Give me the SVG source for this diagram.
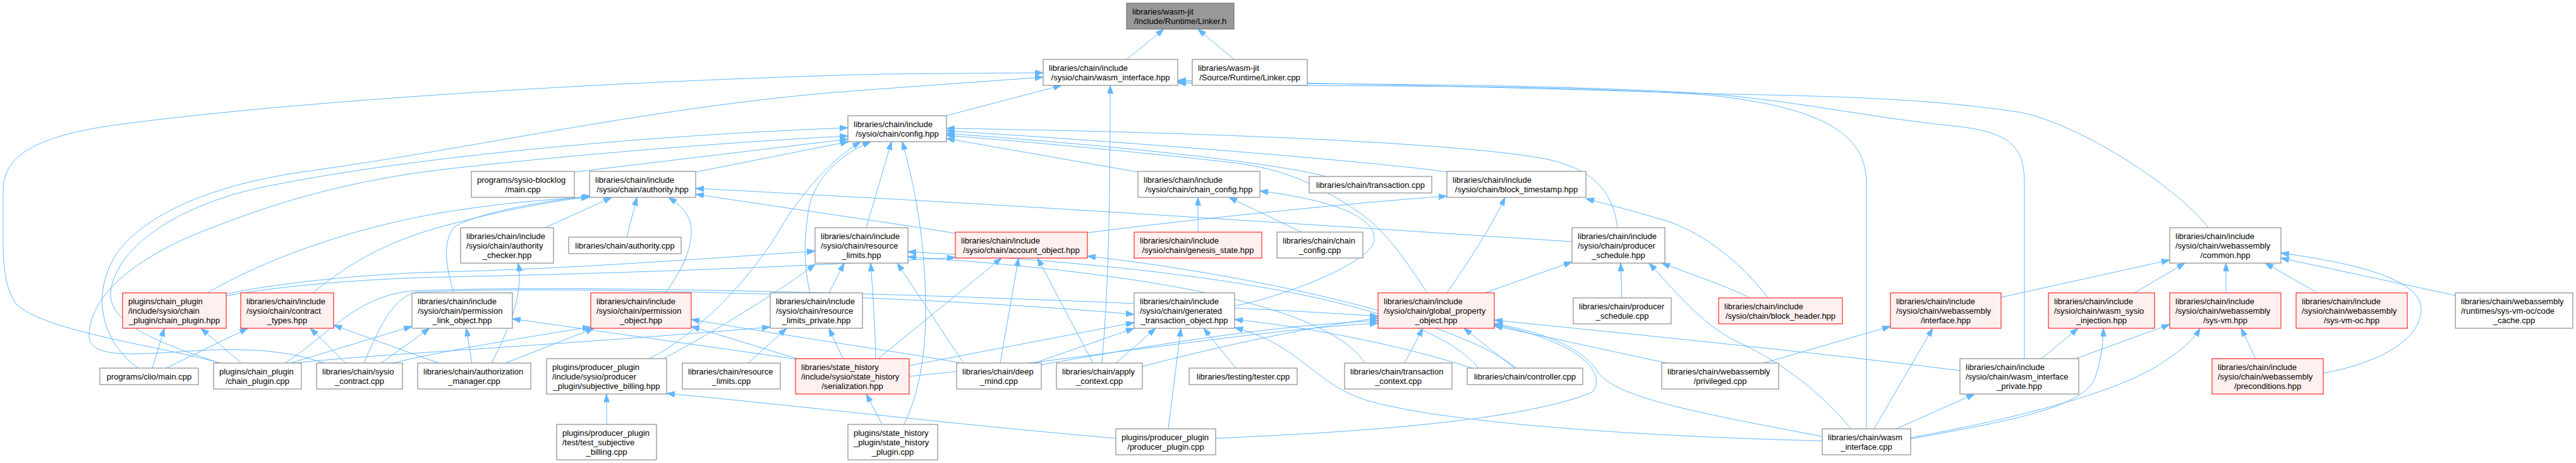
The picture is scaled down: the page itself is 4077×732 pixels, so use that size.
<svg xmlns="http://www.w3.org/2000/svg" width="4077" height="732" viewBox="0 0 4077 732">
<style>
.node rect { fill:#ffffff; stroke:#777777; stroke-width:1; }
.node.red rect { fill:#FFF0F0; stroke:#FF0000; }
.node.root rect { fill:#999999; stroke:#666666; }
text { font-family:"Liberation Sans", Arial, Helvetica, sans-serif; font-size:13px; fill:#000000; }
text.c { text-anchor:middle; }
#edges path { fill:none; stroke:#63B8FF; stroke-width:1; marker-end:url(#arr); }
</style>
<defs>
<marker id="arr" markerWidth="13" markerHeight="10" refX="13" refY="4.5" orient="auto" markerUnits="userSpaceOnUse">
<path d="M0,0 L13,4.5 L0,9 z" fill="#63B8FF" stroke="#63B8FF"/>
</marker>
</defs>
<rect x="0" y="0" width="4077" height="732" fill="#ffffff"/>
<g id="edges">
<path d="M1783,94 L1842,46"/>
<path d="M1953,94 L1896,46"/>
<path d="M1497,183 L1680,135"/>
<path d="M348,574 C260,548 70,525 25,480 C8,455 5,420 5,380 L5,300 C5,245 60,215 180,198 C420,165 900,130 1400,117 L1651,115"/>
<path d="M219,582 C165,545 140,470 185,400 C230,340 330,292 491,270 C750,235 1050,165 1360,143 L1651,122"/>
<path d="M348,574 C260,545 175,515 175,465 C178,400 270,320 446,290 C650,250 1000,215 1342,202"/>
<path d="M513,574 C450,552 380,550 300,555 C200,562 140,565 141,530 C142,460 230,400 330,362 C450,315 560,285 700,268 C900,245 1150,225 1342,215"/>
<path d="M909,272 L1342,220"/>
<path d="M1101,272 L1343,224"/>
<path d="M1801,272 L1498,219"/>
<path d="M2098,279 C2060,268 1900,240 1498,211"/>
<path d="M2290,272 C2200,258 1800,225 1498,207"/>
<path d="M2560,360 C2552,300 2520,268 2450,252 C2300,222 1800,207 1498,203"/>
<path d="M2259,463 C2230,420 2195,365 2150,335 C2090,295 2040,268 1950,257 C1800,240 1600,222 1498,214"/>
<path d="M1371,360 L1411,224"/>
<path d="M1431,671 C1455,620 1465,560 1465,493 C1465,420 1458,330 1428,224"/>
<path d="M1028,567 C1100,530 1180,450 1230,370 C1270,300 1320,250 1362,224"/>
<path d="M1282,463 C1272,420 1272,380 1280,330 C1290,280 1330,245 1378,224"/>
<path d="M328,463 C420,410 550,362 700,336 C800,320 870,315 933,312"/>
<path d="M495,463 C560,410 620,380 700,358 C780,336 860,320 933,311"/>
<path d="M718,463 C705,420 700,380 720,358 C760,335 870,316 935,310"/>
<path d="M863,360 L968,312"/>
<path d="M992,375 L1008,312"/>
<path d="M1053,463 C1085,420 1100,380 1092,350 C1085,330 1070,320 1058,312"/>
<path d="M2488,382 C2300,370 1700,330 1380,313 C1250,306 1150,300 1101,298"/>
<path d="M1512,369 C1450,358 1250,330 1101,307"/>
<path d="M778,574 C800,530 830,470 820,416"/>
<path d="M747,574 L738,519"/>
<path d="M460,574 L652,516"/>
<path d="M603,574 L680,519"/>
<path d="M1262,568 L811,504"/>
<path d="M800,574 L940,519"/>
<path d="M621,574 C700,555 850,530 935,517"/>
<path d="M1265,568 L1094,516"/>
<path d="M1520,574 C1450,560 1300,540 1094,505"/>
<path d="M1184,574 L1245,519"/>
<path d="M1334,567 L1312,519"/>
<path d="M469,574 C560,562 900,545 1219,517"/>
<path d="M357,465 C450,445 600,432 700,430 C900,425 1100,410 1290,397"/>
<path d="M1050,567 C1120,530 1220,470 1290,418"/>
<path d="M1312,463 L1336,416"/>
<path d="M1386,567 C1385,520 1382,470 1378,416"/>
<path d="M1525,574 L1420,416"/>
<path d="M2160,574 C2100,480 1800,430 1437,406"/>
<path d="M2340,582 C2250,470 1850,420 1437,398"/>
<path d="M357,468 C450,450 600,440 700,438 C1000,432 1300,420 1512,407"/>
<path d="M1390,567 L1585,408"/>
<path d="M1583,574 L1612,408"/>
<path d="M1730,574 L1642,408"/>
<path d="M2400,582 C2300,500 1950,430 1721,405"/>
<path d="M576,574 C600,520 620,470 660,462 C900,450 1500,470 1795,497"/>
<path d="M1439,578 L1795,510"/>
<path d="M1637,574 L1795,519"/>
<path d="M1766,574 L1829,519"/>
<path d="M1849,678 L1869,519"/>
<path d="M1956,582 L1905,519"/>
<path d="M2330,582 C2200,540 2050,515 1954,505"/>
<path d="M2884,697 C2600,690 2300,670 2170,635 C2080,610 2060,545 1954,518"/>
<path d="M2223,574 L2252,519"/>
<path d="M2397,582 L2317,519"/>
<path d="M2638,574 L2365,515"/>
<path d="M2884,690 C2700,655 2560,630 2530,590 C2510,555 2450,525 2365,512"/>
<path d="M3102,586 C2900,560 2600,530 2365,506"/>
<path d="M1924,693 C2100,685 2400,670 2520,620 C2545,590 2500,540 2365,513"/>
<path d="M1806,580 C1900,555 2050,520 2181,503"/>
<path d="M1640,578 C1800,550 2000,515 2181,507"/>
<path d="M1439,595 C1700,570 2000,520 2181,511"/>
<path d="M451,574 C520,530 560,470 650,460 C1000,445 1900,480 2181,500"/>
<path d="M2350,463 L2488,414"/>
<path d="M2567,471 L2565,416"/>
<path d="M2769,471 C2740,455 2680,435 2630,416"/>
<path d="M2930,678 C2880,620 2830,580 2760,545 C2700,520 2660,470 2610,416"/>
<path d="M2290,463 C2320,420 2360,360 2382,312"/>
<path d="M1721,368 C1900,345 2150,320 2290,310"/>
<path d="M2798,471 C2760,420 2700,370 2640,350 C2580,332 2540,322 2510,314"/>
<path d="M1896,367 L1896,312"/>
<path d="M2060,367 L1945,312"/>
<path d="M1954,483 C2000,478 2170,420 2175,380 C2178,340 2100,315 1994,302"/>
<path d="M1744,574 C1752,480 1757,380 1757,135"/>
<path d="M2954,678 L2954,290 C2954,220 2900,170 2700,150 C2400,130 2100,140 1864,131"/>
<path d="M3204,567 L3204,290 C3204,230 3180,210 3100,200 C2950,185 2850,160 2700,148 C2400,130 2100,135 1864,129"/>
<path d="M3495,360 C3450,300 3300,200 3200,178 C3050,155 2900,152 2700,148 C2400,138 2100,132 1864,127"/>
<path d="M3167,470 L3434,411"/>
<path d="M3378,463 L3458,416"/>
<path d="M3523,463 L3523,416"/>
<path d="M3668,463 L3585,416"/>
<path d="M3677,590 C3760,575 3830,540 3832,490 C3834,440 3720,415 3610,400"/>
<path d="M3886,467 L3610,408"/>
<path d="M3285,567 L3434,513"/>
<path d="M3024,692 C3200,660 3350,620 3420,575 C3450,555 3470,540 3482,519"/>
<path d="M3570,567 L3547,519"/>
<path d="M3231,567 L3289,519"/>
<path d="M3024,694 C3150,670 3290,650 3315,600 C3325,570 3329,545 3329,519"/>
<path d="M2791,574 L2992,516"/>
<path d="M2966,678 L3059,519"/>
<path d="M3001,678 L3125,623"/>
<path d="M960,671 L960,623"/>
<path d="M1766,693 C1500,670 1250,640 1055,622"/>
<path d="M1396,671 L1371,623"/>
<path d="M241,582 L260,519"/>
<path d="M382,574 L318,519"/>
<path d="M263,582 L392,519"/>
<path d="M547,574 L491,519"/>
<path d="M694,574 L528,514"/>
</g>
<g id="n_linker_h" class="node root"><rect x="1783" y="5" width="170" height="41"/><text x="1792" y="22.5">libraries/wasm-jit</text><text class="c" x="1868" y="37.5">/Include/Runtime/Linker.h</text></g>
<g id="n_wasm_iface_hpp" class="node"><rect x="1651" y="94" width="213" height="41"/><text x="1660" y="111.5">libraries/chain/include</text><text class="c" x="1757.5" y="126.5">/sysio/chain/wasm_interface.hpp</text></g>
<g id="n_linker_cpp" class="node"><rect x="1887" y="94" width="182" height="41"/><text x="1896" y="111.5">libraries/wasm-jit</text><text class="c" x="1978" y="126.5">/Source/Runtime/Linker.cpp</text></g>
<g id="n_config_hpp" class="node"><rect x="1342" y="183" width="156" height="41"/><text x="1351" y="200.5">libraries/chain/include</text><text class="c" x="1420" y="215.5">/sysio/chain/config.hpp</text></g>
<g id="n_blocklog_main" class="node"><rect x="746" y="271" width="163" height="41"/><text x="755" y="288.5">programs/sysio-blocklog</text><text class="c" x="827.5" y="303.5">/main.cpp</text></g>
<g id="n_authority_hpp" class="node"><rect x="933" y="271" width="168" height="41"/><text x="942" y="288.5">libraries/chain/include</text><text class="c" x="1017" y="303.5">/sysio/chain/authority.hpp</text></g>
<g id="n_chain_config_hpp" class="node"><rect x="1801" y="271" width="193" height="41"/><text x="1810" y="288.5">libraries/chain/include</text><text class="c" x="1897.5" y="303.5">/sysio/chain/chain_config.hpp</text></g>
<g id="n_transaction_cpp" class="node"><rect x="2072" y="279" width="194" height="26"/><text class="c" x="2169" y="296.5">libraries/chain/transaction.cpp</text></g>
<g id="n_block_timestamp_hpp" class="node"><rect x="2290" y="271" width="220" height="41"/><text x="2299" y="288.5">libraries/chain/include</text><text class="c" x="2400" y="303.5">/sysio/chain/block_timestamp.hpp</text></g>
<g id="n_authority_checker_hpp" class="node"><rect x="729" y="360" width="147" height="56"/><text x="738" y="377.5">libraries/chain/include</text><text x="738" y="392.5">/sysio/chain/authority</text><text class="c" x="802.5" y="407.5">_checker.hpp</text></g>
<g id="n_authority_cpp" class="node"><rect x="900" y="375" width="178" height="26"/><text class="c" x="989" y="392.5">libraries/chain/authority.cpp</text></g>
<g id="n_resource_limits_hpp" class="node"><rect x="1290" y="360" width="147" height="56"/><text x="1299" y="377.5">libraries/chain/include</text><text x="1299" y="392.5">/sysio/chain/resource</text><text class="c" x="1363.5" y="407.5">_limits.hpp</text></g>
<g id="n_account_object_hpp" class="node red"><rect x="1512" y="367" width="209" height="41"/><text x="1521" y="384.5">libraries/chain/include</text><text class="c" x="1616.5" y="399.5">/sysio/chain/account_object.hpp</text></g>
<g id="n_genesis_state_hpp" class="node red"><rect x="1795" y="367" width="202" height="41"/><text x="1804" y="384.5">libraries/chain/include</text><text class="c" x="1896" y="399.5">/sysio/chain/genesis_state.hpp</text></g>
<g id="n_chain_config_cpp" class="node"><rect x="2021" y="367" width="136" height="41"/><text x="2030" y="384.5">libraries/chain/chain</text><text class="c" x="2089" y="399.5">_config.cpp</text></g>
<g id="n_producer_schedule_hpp" class="node"><rect x="2488" y="360" width="147" height="56"/><text x="2497" y="377.5">libraries/chain/include</text><text x="2497" y="392.5">/sysio/chain/producer</text><text class="c" x="2561.5" y="407.5">_schedule.hpp</text></g>
<g id="n_common_hpp" class="node"><rect x="3434" y="360" width="176" height="56"/><text x="3443" y="377.5">libraries/chain/include</text><text x="3443" y="392.5">/sysio/chain/webassembly</text><text class="c" x="3522" y="407.5">/common.hpp</text></g>
<g id="n_chain_plugin_hpp" class="node red"><rect x="194" y="463" width="164" height="56"/><text x="203" y="480.5">plugins/chain_plugin</text><text x="203" y="495.5">/include/sysio/chain</text><text class="c" x="276" y="510.5">_plugin/chain_plugin.hpp</text></g>
<g id="n_contract_types_hpp" class="node red"><rect x="381" y="463" width="147" height="56"/><text x="390" y="480.5">libraries/chain/include</text><text x="390" y="495.5">/sysio/chain/contract</text><text class="c" x="454.5" y="510.5">_types.hpp</text></g>
<g id="n_permission_link_object_hpp" class="node"><rect x="652" y="463" width="159" height="56"/><text x="661" y="480.5">libraries/chain/include</text><text x="661" y="495.5">/sysio/chain/permission</text><text class="c" x="731.5" y="510.5">_link_object.hpp</text></g>
<g id="n_permission_object_hpp" class="node red"><rect x="935" y="463" width="159" height="56"/><text x="944" y="480.5">libraries/chain/include</text><text x="944" y="495.5">/sysio/chain/permission</text><text class="c" x="1014.5" y="510.5">_object.hpp</text></g>
<g id="n_resource_limits_private_hpp" class="node"><rect x="1219" y="463" width="146" height="56"/><text x="1228" y="480.5">libraries/chain/include</text><text x="1228" y="495.5">/sysio/chain/resource</text><text class="c" x="1292" y="510.5">_limits_private.hpp</text></g>
<g id="n_generated_transaction_object_hpp" class="node"><rect x="1795" y="463" width="159" height="56"/><text x="1804" y="480.5">libraries/chain/include</text><text x="1804" y="495.5">/sysio/chain/generated</text><text class="c" x="1874.5" y="510.5">_transaction_object.hpp</text></g>
<g id="n_global_property_object_hpp" class="node red"><rect x="2181" y="463" width="184" height="56"/><text x="2190" y="480.5">libraries/chain/include</text><text x="2190" y="495.5">/sysio/chain/global_property</text><text class="c" x="2273" y="510.5">_object.hpp</text></g>
<g id="n_producer_schedule_cpp" class="node"><rect x="2490" y="471" width="155" height="41"/><text x="2499" y="488.5">libraries/chain/producer</text><text class="c" x="2567.5" y="503.5">_schedule.cpp</text></g>
<g id="n_block_header_hpp" class="node red"><rect x="2720" y="471" width="196" height="41"/><text x="2729" y="488.5">libraries/chain/include</text><text class="c" x="2818" y="503.5">/sysio/chain/block_header.hpp</text></g>
<g id="n_webassembly_interface_hpp" class="node red"><rect x="2992" y="463" width="175" height="56"/><text x="3001" y="480.5">libraries/chain/include</text><text x="3001" y="495.5">/sysio/chain/webassembly</text><text class="c" x="3079.5" y="510.5">/interface.hpp</text></g>
<g id="n_wasm_sysio_injection_hpp" class="node red"><rect x="3242" y="463" width="168" height="56"/><text x="3251" y="480.5">libraries/chain/include</text><text x="3251" y="495.5">/sysio/chain/wasm_sysio</text><text class="c" x="3326" y="510.5">_injection.hpp</text></g>
<g id="n_sys_vm_hpp" class="node red"><rect x="3434" y="463" width="176" height="56"/><text x="3443" y="480.5">libraries/chain/include</text><text x="3443" y="495.5">/sysio/chain/webassembly</text><text class="c" x="3522" y="510.5">/sys-vm.hpp</text></g>
<g id="n_sys_vm_oc_hpp" class="node red"><rect x="3634" y="463" width="176" height="56"/><text x="3643" y="480.5">libraries/chain/include</text><text x="3643" y="495.5">/sysio/chain/webassembly</text><text class="c" x="3722" y="510.5">/sys-vm-oc.hpp</text></g>
<g id="n_code_cache_cpp" class="node"><rect x="3886" y="463" width="186" height="56"/><text x="3895" y="480.5">libraries/chain/webassembly</text><text x="3895" y="495.5">/runtimes/sys-vm-oc/code</text><text class="c" x="3979" y="510.5">_cache.cpp</text></g>
<g id="n_clio_main" class="node"><rect x="158" y="582" width="156" height="26"/><text class="c" x="236" y="599.5">programs/clio/main.cpp</text></g>
<g id="n_chain_plugin_cpp" class="node"><rect x="338" y="574" width="139" height="41"/><text x="347" y="591.5">plugins/chain_plugin</text><text class="c" x="407.5" y="606.5">/chain_plugin.cpp</text></g>
<g id="n_sysio_contract_cpp" class="node"><rect x="501" y="574" width="136" height="41"/><text x="510" y="591.5">libraries/chain/sysio</text><text class="c" x="569" y="606.5">_contract.cpp</text></g>
<g id="n_authorization_manager_cpp" class="node"><rect x="661" y="574" width="179" height="41"/><text x="670" y="591.5">libraries/chain/authorization</text><text class="c" x="750.5" y="606.5">_manager.cpp</text></g>
<g id="n_subjective_billing_hpp" class="node"><rect x="865" y="567" width="190" height="56"/><text x="874" y="584.5">plugins/producer_plugin</text><text x="874" y="599.5">/include/sysio/producer</text><text class="c" x="960" y="614.5">_plugin/subjective_billing.hpp</text></g>
<g id="n_resource_limits_cpp" class="node"><rect x="1080" y="574" width="155" height="41"/><text x="1089" y="591.5">libraries/chain/resource</text><text class="c" x="1157.5" y="606.5">_limits.cpp</text></g>
<g id="n_serialization_hpp" class="node red"><rect x="1259" y="567" width="180" height="56"/><text x="1268" y="584.5">libraries/state_history</text><text x="1268" y="599.5">/include/sysio/state_history</text><text class="c" x="1349" y="614.5">/serialization.hpp</text></g>
<g id="n_deep_mind_cpp" class="node"><rect x="1514" y="574" width="134" height="41"/><text x="1523" y="591.5">libraries/chain/deep</text><text class="c" x="1581" y="606.5">_mind.cpp</text></g>
<g id="n_apply_context_cpp" class="node"><rect x="1672" y="574" width="136" height="41"/><text x="1681" y="591.5">libraries/chain/apply</text><text class="c" x="1740" y="606.5">_context.cpp</text></g>
<g id="n_tester_cpp" class="node"><rect x="1882" y="582" width="171" height="26"/><text class="c" x="1967.5" y="599.5">libraries/testing/tester.cpp</text></g>
<g id="n_transaction_context_cpp" class="node"><rect x="2128" y="574" width="170" height="41"/><text x="2137" y="591.5">libraries/chain/transaction</text><text class="c" x="2213" y="606.5">_context.cpp</text></g>
<g id="n_controller_cpp" class="node"><rect x="2322" y="582" width="183" height="26"/><text class="c" x="2413.5" y="599.5">libraries/chain/controller.cpp</text></g>
<g id="n_privileged_cpp" class="node"><rect x="2630" y="574" width="185" height="41"/><text x="2639" y="591.5">libraries/chain/webassembly</text><text class="c" x="2722.5" y="606.5">/privileged.cpp</text></g>
<g id="n_wasm_interface_private_hpp" class="node"><rect x="3102" y="567" width="188" height="56"/><text x="3111" y="584.5">libraries/chain/include</text><text x="3111" y="599.5">/sysio/chain/wasm_interface</text><text class="c" x="3196" y="614.5">_private.hpp</text></g>
<g id="n_preconditions_hpp" class="node red"><rect x="3501" y="567" width="176" height="56"/><text x="3510" y="584.5">libraries/chain/include</text><text x="3510" y="599.5">/sysio/chain/webassembly</text><text class="c" x="3589" y="614.5">/preconditions.hpp</text></g>
<g id="n_test_subjective_billing_cpp" class="node"><rect x="881" y="671" width="158" height="56"/><text x="890" y="688.5">plugins/producer_plugin</text><text x="890" y="703.5">/test/test_subjective</text><text class="c" x="960" y="718.5">_billing.cpp</text></g>
<g id="n_state_history_plugin_cpp" class="node"><rect x="1342" y="671" width="142" height="56"/><text x="1351" y="688.5">plugins/state_history</text><text x="1351" y="703.5">_plugin/state_history</text><text class="c" x="1413" y="718.5">_plugin.cpp</text></g>
<g id="n_producer_plugin_cpp" class="node"><rect x="1766" y="678" width="158" height="41"/><text x="1775" y="695.5">plugins/producer_plugin</text><text class="c" x="1845" y="710.5">/producer_plugin.cpp</text></g>
<g id="n_wasm_interface_cpp" class="node"><rect x="2884" y="678" width="140" height="41"/><text x="2893" y="695.5">libraries/chain/wasm</text><text class="c" x="2954" y="710.5">_interface.cpp</text></g>
</svg>
